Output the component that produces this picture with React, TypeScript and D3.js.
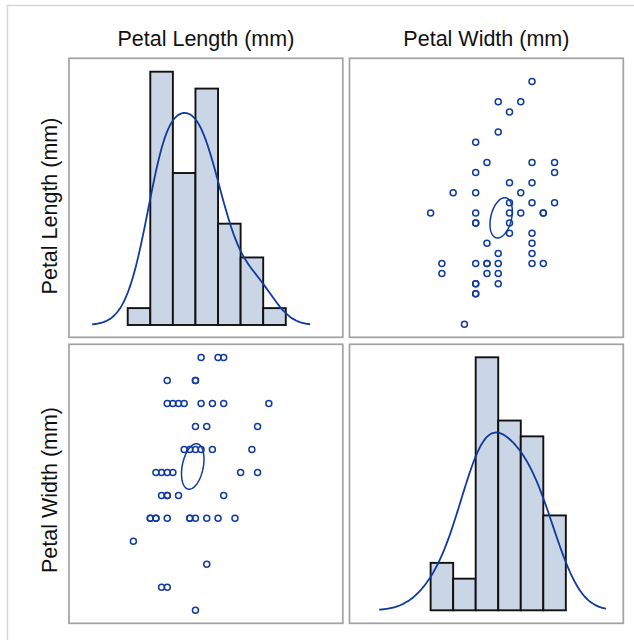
import { useEffect, useRef } from 'react';
import * as d3 from 'd3';

const petalLength = [
  60, 51, 59, 56, 58, 66, 45, 63, 58, 61, 51, 53, 55, 50, 51, 53, 55, 67, 69, 50,
  57, 49, 67, 49, 57, 60, 48, 49, 56, 58, 61, 64, 56, 51, 56, 61, 56, 55, 48, 54,
  56, 51, 51, 59, 57, 52, 50, 52, 54, 51,
];
const petalWidth = [
  25, 19, 21, 18, 22, 21, 17, 18, 18, 25, 20, 19, 21, 20, 24, 23, 18, 22, 23, 15,
  23, 20, 20, 18, 21, 18, 18, 18, 21, 16, 19, 20, 22, 15, 14, 23, 24, 18, 18, 21,
  24, 23, 19, 23, 25, 23, 19, 20, 23, 18,
];
const variableLabels = ['Petal Length (mm)', 'Petal Width (mm)'];

// histogram bin edges
const lengthBinEdges = [44, 48, 52, 56, 60, 64, 68, 72];
const widthBinEdges = [14, 16, 18, 20, 22, 24, 26];

const BLUE = '#103b9e';
const FONT = '"Liberation Sans", Arial, Helvetica, sans-serif';

export default function App() {
  const svgRef = useRef<SVGSVGElement>(null);

  useEffect(() => {
    if (!svgRef.current) return;
    const width = 634;
    const height = 640;

    d3.select(svgRef.current).selectAll('*').remove();
    const svg = d3.select(svgRef.current).attr('width', width).attr('height', height);

    // cell geometry
    const cellLeft = [69, 349.5];
    const cellTop = [58.3, 344.3];
    const cellW = 273.8;
    const cellH = 279;

    // column (x) scales, shared by each column
    const xLen = d3.scaleLinear().domain([33.6, 82.1]).range([cellLeft[0], cellLeft[0] + cellW]);
    const xWid = d3.scaleLinear().domain([6.8, 31.1]).range([cellLeft[1], cellLeft[1] + cellW]);
    // row (y) scales for the scatter cells
    const yLen = d3.scaleLinear().domain([43.7, 71.3]).range([cellTop[0] + cellH, cellTop[0]]);
    const yWid = d3.scaleLinear().domain([13.43, 25.58]).range([cellTop[1] + cellH, cellTop[1]]);

    // outer image border
    svg.append('rect')
      .attr('x', 7.5).attr('y', 5.5)
      .attr('width', 700).attr('height', 700)
      .attr('fill', 'white')
      .attr('stroke', '#d6d6d6')
      .attr('stroke-width', 1.5);

    // cell frames
    [0, 1].forEach(r => [0, 1].forEach(c => {
      svg.append('rect')
        .attr('x', cellLeft[c]).attr('y', cellTop[r])
        .attr('width', cellW).attr('height', cellH)
        .attr('fill', 'white')
        .attr('stroke', '#a2a2a2')
        .attr('stroke-width', 1.7);
    }));

    // column titles and row labels
    const rowLabelY = [206, 490];
    variableLabels.forEach((label, i) => {
      svg.append('text')
        .attr('x', cellLeft[i] + cellW / 2)
        .attr('y', 46)
        .attr('text-anchor', 'middle')
        .style('font-family', FONT)
        .style('font-size', '21.5px')
        .style('fill', '#111')
        .text(label);

      svg.append('text')
        .attr('transform', `translate(56.5,${rowLabelY[i]}) rotate(-90)`)
        .attr('text-anchor', 'middle')
        .style('font-family', FONT)
        .style('font-size', '21.5px')
        .style('fill', '#111')
        .text(label);
    });

    // Diagonal histograms with kernel density
    const drawDiag = (
      values: number[],
      edges: number[],
      x: d3.ScaleLinear<number, number>,
      baseY: number,
      topY: number,
      bandwidth: number,
    ) => {
      const bins = d3.bin()
        .domain([edges[0], edges[edges.length - 1]])
        .thresholds(edges.slice(1, -1))(values);
      const maxCount = d3.max(bins, b => b.length) || 1;
      const y = d3.scaleLinear().domain([0, maxCount]).range([baseY, topY]);

      svg.append('g')
        .selectAll('rect')
        .data(bins)
        .join('rect')
        .attr('x', d => x(d.x0!))
        .attr('y', d => y(d.length))
        .attr('width', d => x(d.x1!) - x(d.x0!))
        .attr('height', d => y(0) - y(d.length))
        .attr('fill', '#cad5e5')
        .attr('stroke', '#111')
        .attr('stroke-width', 1.9);

      // gaussian kernel density, scaled to counts
      const n = values.length;
      const binW = edges[1] - edges[0];
      const lo = d3.min(values)! - 2.38 * bandwidth;
      const hi = d3.max(values)! + 2.38 * bandwidth;
      const grid = d3.range(lo, hi + 1e-9, (hi - lo) / 200);
      const dens = grid.map(t => {
        const f = d3.sum(values, v => Math.exp(-0.5 * ((t - v) / bandwidth) ** 2)) /
          (n * bandwidth * Math.sqrt(2 * Math.PI));
        return [t, f * n * binW] as [number, number];
      });
      svg.append('path')
        .datum(dens)
        .attr('fill', 'none')
        .attr('stroke', BLUE)
        .attr('stroke-width', 1.8)
        .attr('d', d3.line<[number, number]>().x(d => x(d[0])).y(d => y(d[1])).curve(d3.curveBasis));
    };

    drawDiag(petalLength, lengthBinEdges, xLen, 325, 71.7, 3.07);
    drawDiag(petalWidth, widthBinEdges, xWid, 610.3, 357.3, 1.92);

    // 95% confidence ellipse for the mean
    const n = petalLength.length;
    const mL = d3.mean(petalLength)!;
    const mW = d3.mean(petalWidth)!;
    const sLL = d3.variance(petalLength)!;
    const sWW = d3.variance(petalWidth)!;
    const sLW = d3.sum(petalLength.map((v, i) => (v - mL) * (petalWidth[i] - mW))) / (n - 1);
    const fQuant = 3.19; // F(0.95; 2, 48)
    const k = Math.sqrt((2 * (n - 1)) / (n * (n - 2)) * fQuant);
    const a = Math.sqrt(sLL);
    const b = sLW / a;
    const dd = Math.sqrt(sWW - b * b);
    const ellipse = d3.range(0, 2 * Math.PI + 0.01, Math.PI / 60).map(t => ({
      len: mL + k * a * Math.cos(t),
      wid: mW + k * (b * Math.cos(t) + dd * Math.sin(t)),
    }));

    const points = petalLength.map((len, i) => ({ len, wid: petalWidth[i] }));

    const drawScatter = (
      xs: (d: { len: number; wid: number }) => number,
      ys: (d: { len: number; wid: number }) => number,
    ) => {
      const g = svg.append('g');
      g.selectAll('circle')
        .data(points)
        .join('circle')
        .attr('cx', xs)
        .attr('cy', ys)
        .attr('r', 3)
        .attr('fill', 'none')
        .attr('stroke', BLUE)
        .attr('stroke-width', 1.5);

      g.append('path')
        .datum(ellipse)
        .attr('fill', 'none')
        .attr('stroke', BLUE)
        .attr('stroke-width', 1.5)
        .attr('d', d3.line<{ len: number; wid: number }>().x(xs).y(ys));
    };

    // top-right: x = width, y = length
    drawScatter(d => xWid(d.wid), d => yLen(d.len));
    // bottom-left: x = length, y = width
    drawScatter(d => xLen(d.len), d => yWid(d.wid));
  }, []);

  return (
    <div style={{ position: 'absolute', left: 0, top: 0, width: 634, height: 640, overflow: 'hidden' }}>
      <svg ref={svgRef}></svg>
    </div>
  );
}
